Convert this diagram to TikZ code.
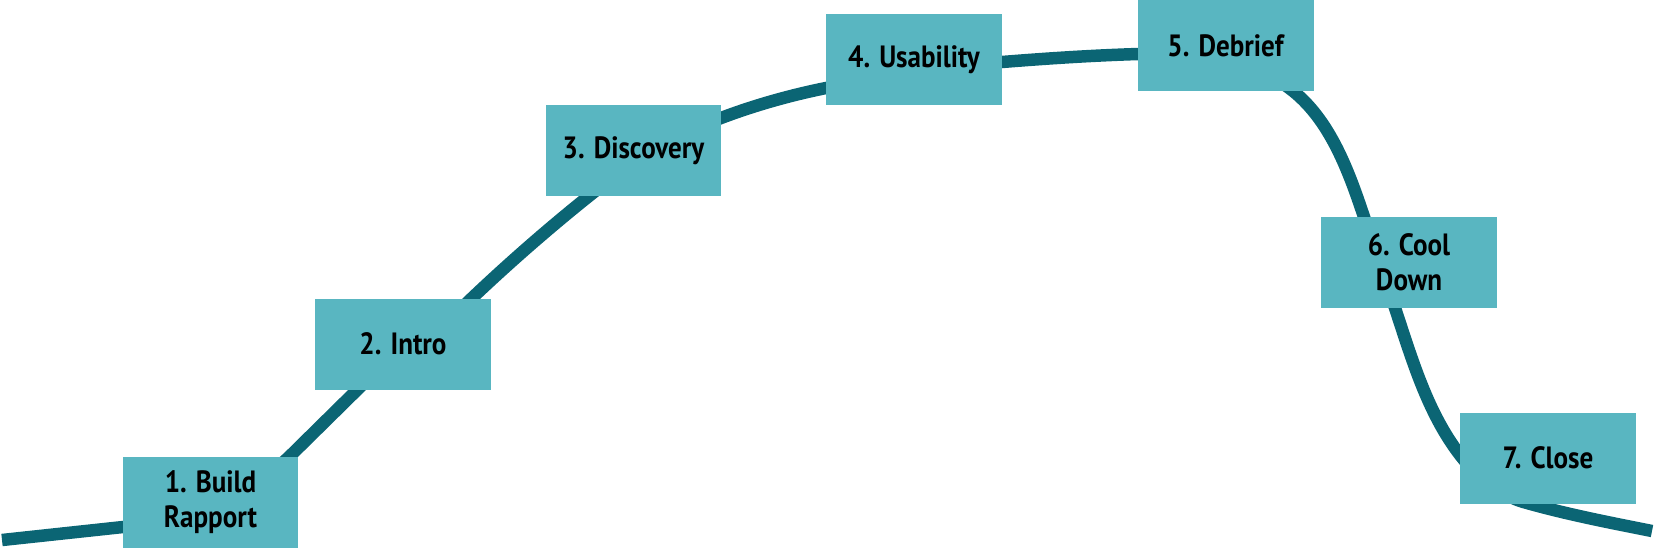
\documentclass[tikz,border=0pt]{standalone}
\usepackage{fontspec}
\newfontfamily\lblfont[FakeStretch=0.88]{PT Sans}
\definecolor{boxfill}{RGB}{89,182,193}
\definecolor{wave}{RGB}{11,101,116}
\begin{document}
\begin{tikzpicture}[x=0.02cm,y=-0.02cm,
  stage/.style={rectangle, fill=boxfill, minimum width=3.52cm, minimum height=1.82cm,
    inner sep=0pt, align=center, text=black,
    font=\lblfont\bfseries\fontsize{17.5}{19.8}\selectfont},
  wavepath/.style={draw=wave, line width=7.1pt, line cap=butt, line join=round}]
\useasboundingbox (0,0) rectangle (1655,556);
\coordinate (start) at (2,540);
\coordinate (finish) at (1652,531);
\draw[wavepath] (start) -- (123,527)
  .. controls (182.7,520.6) and (245.3,498.1) .. (289,457)
  -- (358,389)
  .. controls (392,355.4) and (437,333) .. (471,299)
  .. controls (508.7,263.2) and (548.4,228.5) .. (589,196)
  .. controls (628.8,164.1) and (673.3,136.1) .. (721,118)
  .. controls (754.7,105.2) and (790.7,95.1) .. (826,88)
  .. controls (883.8,76.4) and (943.2,66.7) .. (1002,62)
  .. controls (1047,58.4) and (1093,55.4) .. (1138,54)
  .. controls (1191,52.4) and (1251.6,57.9) .. (1293,91)
  .. controls (1330.5,121) and (1348.8,171.5) .. (1364,217)
  -- (1395,308)
  .. controls (1411.9,358.9) and (1427.3,412.5) .. (1460,455)
  .. controls (1476.5,476.4) and (1500.8,496.4) .. (1527,503)
  .. controls (1568.4,514.6) and (1609.8,522.6) .. (finish);
\node[stage] (s1) at (210.5,502.5) {1. Build\\Rapport};
\node[stage] (s2) at (403,344) {2. Intro};
\node[stage] (s3) at (633.5,150.5) {3. Discovery};
\node[stage] (s4) at (914,59.5) {4. Usability};
\node[stage] (s5) at (1225.5,45.5) {5. Debrief};
\node[stage] (s6) at (1409,262.5) {6. Cool\\Down};
\node[stage] (s7) at (1548,458) {7. Close};
\end{tikzpicture}
\end{document}
